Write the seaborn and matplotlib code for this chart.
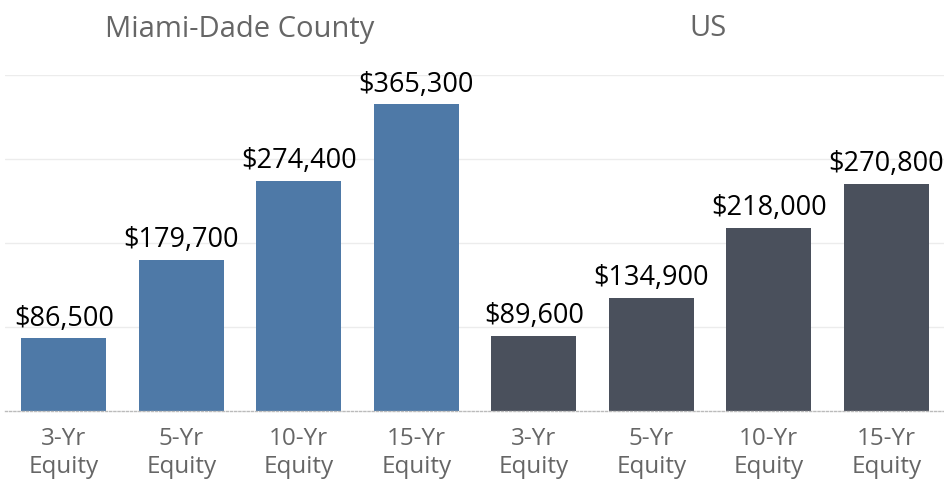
import numpy as np
import pandas as pd
import matplotlib.pyplot as plt
import seaborn as sns

# Chart values
regions = ["Miami-Dade County", "US"]
periods = ["3-Yr\nEquity", "5-Yr\nEquity", "10-Yr\nEquity", "15-Yr\nEquity"]
miami_equity = [86500, 179700, 274400, 365300]
us_equity = [89600, 134900, 218000, 270800]
colors = {"Miami-Dade County": "#4e79a7", "US": "#4a505c"}

df = pd.DataFrame({
    "region": np.repeat(regions, len(periods)),
    "period": periods * 2,
    "equity": miami_equity + us_equity,
})
df["key"] = df["region"] + "|" + df["period"]

sns.set_style("white")
plt.rcParams["font.family"] = ["Open Sans", "DejaVu Sans"]

fig = plt.figure(figsize=(9.45, 4.82), dpi=100)
ax = fig.add_axes([5 / 945, 71 / 482, 940 / 945, 336 / 482])

sns.barplot(data=df, x="key", y="equity", hue="region", palette=colors,
            dodge=False, width=0.72, legend=False, ax=ax, saturation=1,
            linewidth=0)

for cont in ax.containers:
    ax.bar_label(cont, labels=[f"${v:,.0f}" for v in cont.datavalues],
                 padding=4, fontsize=19.5, color="black")

ax.set_ylim(0, 400000)
ax.set_xlim(-0.5, 7.5)
ax.set_yticks([100000, 200000, 300000, 400000])
ax.set_yticklabels([])
ax.tick_params(axis="y", length=0)
ax.yaxis.grid(True, color="#ececec", linewidth=1)
ax.set_axisbelow(True)

ax.set_xticks(range(8))
ax.set_xticklabels(periods * 2, fontsize=17.5, color="#666666", linespacing=1.25)
ax.tick_params(axis="x", length=0, pad=11.5)
ax.set_xticks(np.arange(-0.5, 8, 1), minor=True)
ax.tick_params(axis="x", which="minor", length=7, color="#dddddd", width=0.8)
ax.set_xlabel("")
ax.set_ylabel("")

for s in ["top", "right", "left"]:
    ax.spines[s].set_visible(False)
ax.spines["bottom"].set_color("#bbbbbb")
ax.spines["bottom"].set_linestyle((0, (1.5, 1.5)))
ax.spines["bottom"].set_linewidth(1)

fig.text(240 / 945, 1 - 29 / 482, regions[0], ha="center", va="center",
         fontsize=21, color="#666666")
fig.text(708 / 945, 1 - 29 / 482, regions[1], ha="center", va="center",
         fontsize=21, color="#666666")

fig.savefig("out.png", dpi=100)
